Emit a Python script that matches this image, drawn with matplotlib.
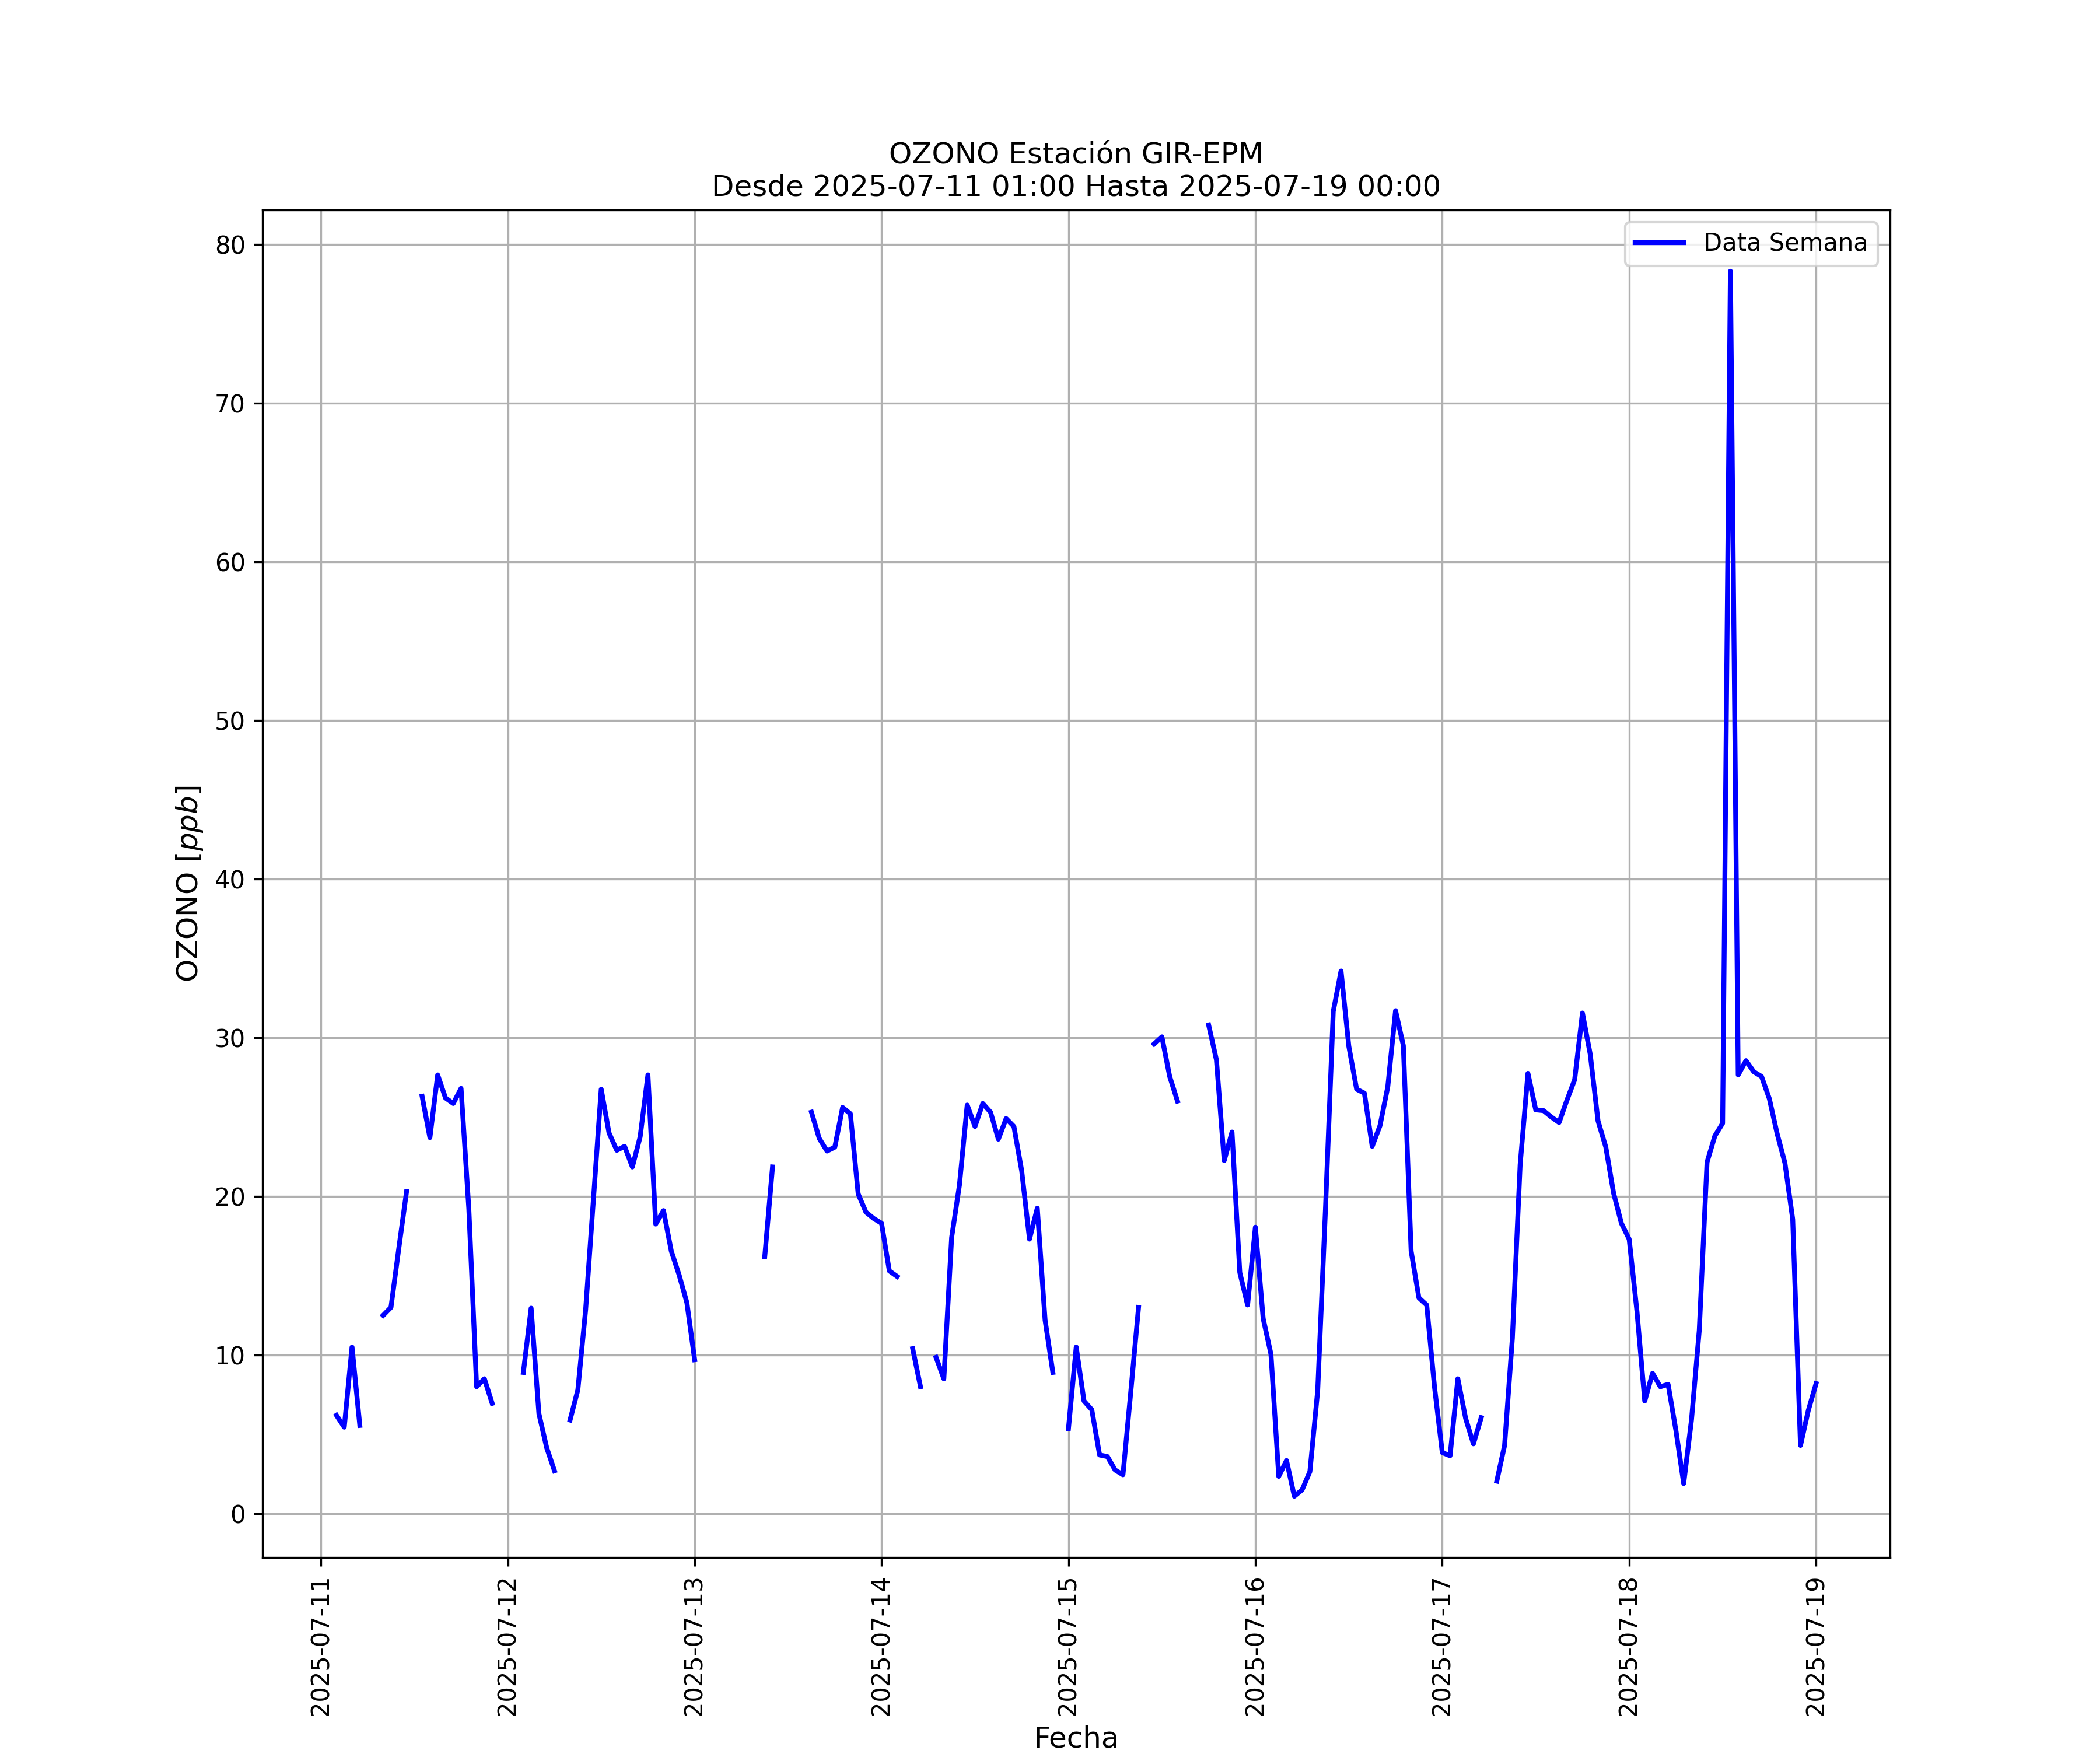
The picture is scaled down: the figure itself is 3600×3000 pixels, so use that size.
import numpy as np
import pandas as pd
import matplotlib
matplotlib.use("Agg")
import matplotlib.pyplot as plt
import matplotlib.dates as mdates

nan = np.nan

# Hourly OZONO values [ppb]; each list holds hours 01:00 .. 24:00 (=next day 00:00)
day_0711 = [nan, 6.2, 5.45, 10.5, 5.56, nan, nan, 12.5, 13.0, 16.7, 20.3, nan,
            26.3, 23.7, 27.65, 26.2, 25.85, 26.8, 19.2, 8.0, 8.5, 6.95, nan, nan]
day_0712 = [nan, 8.9, 12.95, 6.3, 4.15, 2.7, nan, 5.9, 7.8, 12.85, 19.8, 26.75,
            24.0, 22.9, 23.15, 21.85, 23.75, 27.65, 18.25, 19.1, 16.55, 15.05, 13.3, 9.7]
day_0713 = [nan, nan, nan, nan, nan, nan, nan, nan, 16.2, 21.85, nan, nan,
            nan, nan, 25.3, 23.65, 22.85, 23.1, 25.6, 25.2, 20.15, 19.0, 18.6, 18.3]
day_0714 = [15.3, 14.95, nan, 10.4, 8.0, nan, 9.85, 8.5, 17.4, 20.7, 25.75, 24.4,
            25.85, 25.3, 23.6, 24.9, 24.4, 21.6, 17.3, 19.25, 12.2, 8.9, nan, 5.35]
day_0715 = [10.5, 7.1, 6.55, 3.7, 3.6, 2.75, 2.45, 7.65, 13.0, nan, 29.6, 30.05,
            27.55, 26.0, nan, nan, nan, 30.8, 28.6, 22.25, 24.05, 15.2, 13.15, 18.05]
day_0716 = [12.3, 10.05, 2.35, 3.35, 1.1, 1.5, 2.65, 7.75, 19.2, 31.65, 34.2, 29.45,
            26.75, 26.5, 23.15, 24.45, 26.9, 31.7, 29.5, 16.55, 13.6, 13.15, 8.0, 3.85]
day_0717 = [3.65, 8.5, 6.0, 4.4, 6.05, nan, 2.05, 4.3, 11.05, 22.0, 27.75, 25.45,
            25.4, 25.0, 24.65, 26.05, 27.35, 31.55, 28.95, 24.75, 23.1, 20.2, 18.3, 17.3]
day_0718 = [12.75, 7.1, 8.85, 8.0, 8.15, 5.25, 1.9, 5.9, 11.55, 22.15, 23.8, 24.6,
            78.3, 27.65, 28.55, 27.85, 27.55, 26.15, 23.95, 22.1, 18.55, 4.3, 6.5, 8.2]

start = "2025-07-11 01:00"
end = "2025-07-19 00:00"

values = np.array(day_0711 + day_0712 + day_0713 + day_0714 +
                  day_0715 + day_0716 + day_0717 + day_0718, dtype=float)
times = pd.date_range(start, end, freq="h")

fig, ax = plt.subplots(figsize=(12, 10), dpi=300)
ax.plot(times, values, color="blue", linewidth=2, label="Data Semana")

ax.set_title("OZONO Estación GIR-EPM\nDesde 2025-07-11 01:00 Hasta 2025-07-19 00:00", fontsize=12)
ax.set_xlabel("Fecha", fontsize=12)
ax.set_ylabel("OZONO [$ppb$]", fontsize=12)
ax.xaxis.set_major_locator(mdates.DayLocator())
ax.xaxis.set_major_formatter(mdates.DateFormatter("%Y-%m-%d"))
plt.setp(ax.get_xticklabels(), rotation=90)
ax.grid(True)
ax.legend(loc="upper right")

fig.savefig("out.png", dpi=300)
